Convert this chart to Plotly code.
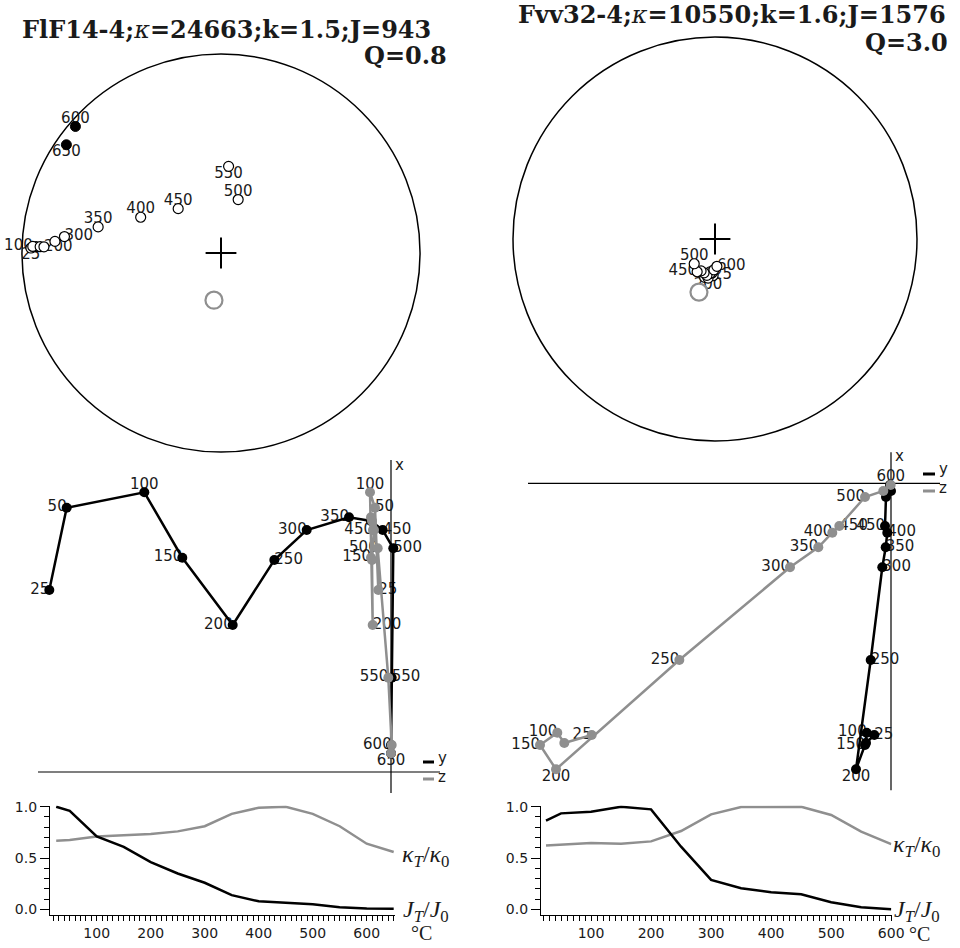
import numpy as np
import plotly.graph_objects as go

W, H = 960, 948

# ---------------- data ----------------
steps_L = [25, 50, 100, 150, 200, 250, 300, 350, 400, 450, 500, 550, 600, 650]
steps_R = [25, 50, 100, 150, 200, 250, 300, 350, 400, 450, 500, 550, 600]

# stereonet directions (declination, inclination, degrees)
dec_L = [271.5, 272, 272, 272, 272, 274, 276, 282, 294, 316, 17.8, 5, 311, 305]
inc_L = [-5, -7.8, -6, -10, -12, -17.5, -22, -37, -53.6, -64.7, -67, -54, 3.5, 5.8]
dec_R = [183, 185, 188.6, 195, 190, 188, 192.5, 197.9, 203.6, 208.6, 220, 182, 176]
inc_R = [-75.2, -76.3, -76.6, -74, -74, -76, -75, -75.7, -76, -75, -77, -77.6, -79]
ref_dir_L = (188.5, 70.5)
ref_dir_R = (196.8, 67.6)

# Zijderveld components (x = north, y = east, z = down), arbitrary units
zx_L = [182, 264.3, 279.7, 214.3, 147, 212, 242, 254.7, 251, 242, 223.7, 94.3, 27, 18.7]
zy_L = [-341.7, -324.3, -246.7, -208.7, -158.3, -116.7, -84.3, -42, -20, -8.3, 2.3, 0.7, 0, 0]
zz_L = [-12.7, -16, -21, -20, -18.3, -19, -17, -20, -19, -18, -13.3, -2.7, 0.7, 0]
zx_R = [-251.7, -259.7, -249.4, -261.7, -286, -176.7, -84, -64, -49.4, -42.7, -13.7, -7.7, -1.7]
zy_R = [-16.7, -25, -24.3, -26, -35, -20.3, -8.7, -5.3, -3.7, -6, -5, 0, -1]
zz_R = [-299.3, -326.7, -333.7, -351, -335, -211.7, -101, -72.7, -58.7, -51.7, -26, -7.7, -0.3]

# normalised demagnetisation / susceptibility curves
J_L = [1.0, 0.96, 0.71, 0.61, 0.46, 0.35, 0.26, 0.14, 0.08, 0.066, 0.05, 0.023, 0.01, 0.007]
K_L = [0.67, 0.675, 0.71, 0.72, 0.735, 0.76, 0.81, 0.93, 0.99, 1.0, 0.93, 0.81, 0.64, 0.56]
J_R = [0.864, 0.935, 0.95, 1.0, 0.974, 0.61, 0.286, 0.205, 0.166, 0.146, 0.068, 0.02, 0.0]
K_R = [0.623, 0.63, 0.646, 0.64, 0.662, 0.763, 0.925, 0.997, 0.997, 1.0, 0.919, 0.757, 0.636]

title_L = "<b>FlF14-4;</b><i>κ</i><b>=24663;k=1.5;J=943</b>"
title_R = "<b>Fvv32-4;</b><i>κ</i><b>=10550;k=1.6;J=1576</b>"
q_L = "<b>Q=0.8</b>"
q_R = "<b>Q=3.0</b>"

# label placement (styling)
st_pos_L = {25: "bottom center", 100: "middle left", 200: "middle right", 300: "middle right",
            350: "top center", 400: "top center", 450: "top center", 500: "top center",
            550: "bottom center", 600: "top center", 650: "bottom center"}
st_pos_R = {500: "top center", 450: "middle left", 600: "middle right", 25: "middle right",
            200: "bottom center"}
zb_pos_L = {25: "middle left", 50: "middle left", 100: "top center", 150: "middle left",
            200: "middle left", 250: "middle right", 300: "middle left", 350: "middle left",
            450: "middle right", 500: "middle right", 550: "middle right"}
zg_pos_L = {25: "middle right", 50: "middle right", 100: "top center", 150: "middle left",
            200: "middle right", 450: "middle left", 500: "middle left", 550: "middle left",
            600: "middle left", 650: "bottom center"}
zb_pos_R = {25: "middle right", 100: "middle left", 150: "middle left", 200: "bottom center",
            250: "middle right", 300: "middle right", 350: "middle right", 400: "middle right",
            450: "middle left"}
zg_pos_R = {25: "middle left", 100: "middle left", 150: "middle left", 200: "bottom center",
            250: "middle left", 300: "middle left", 350: "middle left", 400: "middle left",
            450: "middle right", 500: "middle left", 600: "top center"}

BLACK = "#000000"
GREY = "#8f8f8f"
TXT = "#1a1a1a"
SANS = "DejaVu Sans"
SERIF = "DejaVu Serif"


def proj(dec, inc):
    dec = np.radians(np.asarray(dec, float))
    inc = np.radians(np.asarray(inc, float))
    r = np.sqrt(1 - np.sin(np.abs(inc)))
    return r * np.sin(dec), r * np.cos(dec)


def dom_x(a, b):
    return [a / W, b / W]


def dom_y(top, bottom):
    return [1 - bottom / H, 1 - top / H]


def labels(steps, pos):
    idx = [i for i, s in enumerate(steps) if s in pos]
    return idx, [str(steps[i]) for i in idx], [pos[steps[i]] for i in idx]


fig = go.Figure()


def stereonet(ax, steps, dec, inc, ref, pos):
    xa, ya = ("x", "y") if ax == 1 else (f"x{ax}", f"y{ax}")
    x, y = proj(dec, inc)
    idx, txt, tp = labels(steps, pos)
    fig.add_trace(go.Scatter(x=x[idx], y=y[idx], mode="text", text=txt, textposition=tp,
                             textfont=dict(family=SANS, size=15, color=TXT),
                             xaxis=xa, yaxis=ya, cliponaxis=False, hoverinfo="skip"))
    inc_a = np.asarray(inc)
    up = inc_a < 0
    fig.add_trace(go.Scatter(x=x[up], y=y[up], mode="markers", xaxis=xa, yaxis=ya,
                             marker=dict(symbol="circle", size=10, color="white",
                                         line=dict(color=BLACK, width=1.2)),
                             cliponaxis=False))
    fig.add_trace(go.Scatter(x=x[~up], y=y[~up], mode="markers", xaxis=xa, yaxis=ya,
                             marker=dict(symbol="circle", size=10, color=BLACK,
                                         line=dict(color=BLACK, width=1)),
                             cliponaxis=False))
    rx, ry = proj([ref[0]], [ref[1]])
    fig.add_trace(go.Scatter(x=rx, y=ry, mode="markers", xaxis=xa, yaxis=ya,
                             marker=dict(symbol="circle", size=17, color="white",
                                         line=dict(color=GREY, width=2.2)),
                             cliponaxis=False))
    fig.add_trace(go.Scatter(x=[0], y=[0], mode="markers", xaxis=xa, yaxis=ya,
                             marker=dict(symbol="cross-thin", size=22,
                                         line=dict(color=BLACK, width=2)),
                             cliponaxis=False))
    fig.add_shape(type="circle", xref=xa, yref=ya, x0=-1, y0=-1, x1=1, y1=1,
                  line=dict(color=BLACK, width=1.5), layer="below")


def zijderveld(ax, steps, zx, zy, zz, posb, posg):
    xa, ya = f"x{ax}", f"y{ax}"
    zx, zy, zz = map(np.asarray, (zx, zy, zz))
    for xs, pos in ((zy, posb), (zz, posg)):
        idx, t, p = labels(steps, pos)
        fig.add_trace(go.Scatter(x=xs[idx], y=zx[idx], mode="text", text=t, textposition=p,
                                 textfont=dict(family=SANS, size=15, color=TXT),
                                 xaxis=xa, yaxis=ya, cliponaxis=False, hoverinfo="skip"))
    fig.add_trace(go.Scatter(x=zy, y=zx, mode="lines+markers", xaxis=xa, yaxis=ya,
                             line=dict(color=BLACK, width=2.5),
                             marker=dict(size=10, color=BLACK), cliponaxis=False))
    fig.add_trace(go.Scatter(x=zz, y=zx, mode="lines+markers", xaxis=xa, yaxis=ya,
                             line=dict(color=GREY, width=2.5),
                             marker=dict(size=10, color=GREY), cliponaxis=False))


def demag(ax, steps, J, K):
    xa, ya = f"x{ax}", f"y{ax}"
    fig.add_trace(go.Scatter(x=steps, y=K, mode="lines", xaxis=xa, yaxis=ya,
                             line=dict(color=GREY, width=2.5)))
    fig.add_trace(go.Scatter(x=steps, y=J, mode="lines", xaxis=xa, yaxis=ya,
                             line=dict(color=BLACK, width=2.5)))


stereonet(1, steps_L, dec_L, inc_L, ref_dir_L, st_pos_L)
stereonet(2, steps_R, dec_R, inc_R, ref_dir_R, st_pos_R)
zijderveld(3, steps_L, zx_L, zy_L, zz_L, zb_pos_L, zg_pos_L)
zijderveld(4, steps_R, zx_R, zy_R, zz_R, zb_pos_R, zg_pos_R)
demag(5, steps_L, J_L, K_L)
demag(6, steps_R, J_R, K_R)


def hid(n, dom, rng, other):
    return dict(visible=False, showgrid=False, zeroline=False, domain=dom, range=rng,
                anchor=other, automargin=False)


layout = dict(
    width=W, height=H, margin=dict(l=0, r=0, t=0, b=0, autoexpand=False),
    paper_bgcolor="white", plot_bgcolor="rgba(0,0,0,0)", showlegend=False,
    xaxis=hid(1, dom_x(11, 431), [-1.055, 1.055], "y"),
    yaxis=hid(1, dom_y(43, 463), [-1.055, 1.055], "x"),
    xaxis2=hid(2, dom_x(503, 927), [-1.0495, 1.0495], "y2"),
    yaxis2=hid(2, dom_y(27, 451), [-1.0495, 1.0495], "x2"),
    xaxis3=hid(3, dom_x(0, 480), [-391, 89], "y3"),
    yaxis3=hid(3, dom_y(450, 800), [-28, 322], "x3"),
    xaxis4=hid(4, dom_x(480, 960), [-411, 69], "y4"),
    yaxis4=hid(4, dom_y(445, 800), [-316.7, 38.3], "x4"),
)

tickfont = dict(family=SANS, size=14, color=TXT)


def demag_axes(n, xd, xr, yd, yr):
    xa = dict(domain=xd, range=xr, anchor=f"y{n}", automargin=False,
              showline=True, linecolor=BLACK, linewidth=1.3,
              showgrid=False, zeroline=False, ticks="outside", ticklen=5, tickwidth=1,
              tickcolor=BLACK, tick0=0, dtick=100, tickfont=tickfont,
              minor=dict(dtick=10, tick0=0, ticks="outside", ticklen=5, tickwidth=1,
                         tickcolor=BLACK, showgrid=False))
    ya = dict(domain=yd, range=yr, anchor=f"x{n}", automargin=False,
              showline=True, linecolor=BLACK, linewidth=1.3,
              showgrid=False, zeroline=False, ticks="outside", ticklen=9, tickwidth=1,
              tickcolor=BLACK, tickvals=[0, 0.5, 1.0], ticktext=["0.0", "0.5", "1.0"],
              tickfont=tickfont,
              minor=dict(dtick=0.1, tick0=0, ticks="outside", ticklen=5, tickwidth=1,
                         tickcolor=BLACK, showgrid=False))
    return xa, ya


layout["xaxis5"], layout["yaxis5"] = demag_axes(5, dom_x(50, 395), [13.5, 652.4],
                                                dom_y(805.5, 915), [-0.0535, 1.0117])
layout["xaxis6"], layout["yaxis6"] = demag_axes(6, dom_x(541, 891.5), [16.67, 600.5],
                                                dom_y(805.5, 915), [-0.0556, 1.0117])
fig.update_layout(**layout)

# Zijderveld axes (lines through origin)
for xa, ya, (xl, xh), (yl, yh) in (("x3", "y3", (-353, 49), (-21, 312)),
                                   ("x4", "y4", (-363, 49), (-307, 31))):
    fig.add_shape(type="line", xref=xa, yref=ya, x0=xl, x1=xh, y0=0, y1=0,
                  line=dict(color=BLACK, width=1.2), layer="below")
    fig.add_shape(type="line", xref=xa, yref=ya, x0=0, x1=0, y0=yl, y1=yh,
                  line=dict(color=BLACK, width=1.2), layer="below")


def ann(text, px, py, size=15, family=SANS, xanchor="center", color=TXT):
    fig.add_annotation(text=text, x=px / W, y=1 - py / H, xref="paper", yref="paper",
                       showarrow=False, xanchor=xanchor, yanchor="middle",
                       font=dict(family=family, size=size, color=color))


def dash(x0, x1, py, color):
    fig.add_shape(type="line", xref="paper", yref="paper", x0=x0 / W, x1=x1 / W,
                  y0=1 - py / H, y1=1 - py / H, line=dict(color=color, width=3))


# titles
ann(title_L, 226, 30, size=24, family=SERIF)
ann(q_L, 449, 55, size=24, family=SERIF, xanchor="right")
ann(title_R, 732, 14, size=24, family=SERIF)
ann(q_R, 950, 42, size=24, family=SERIF, xanchor="right")

# Zijderveld axis labels / legend
ann("x", 399, 465)
ann("y", 442, 758)
ann("z", 442, 777)
dash(423, 434, 762, BLACK)
dash(423, 434, 779, GREY)
ann("x", 899, 456)
ann("y", 943, 469)
ann("z", 943, 488)
dash(923, 935, 474, BLACK)
dash(923, 935, 491, GREY)

# curve labels
kap = "<i>κ<sub>T</sub></i>/<i>κ</i><sub>0</sub>"
jj = "<i>J<sub>T</sub></i>/<i>J</i><sub>0</sub>"
ann(kap, 400, 856, size=24, family="Liberation Serif", xanchor="left")
ann(jj, 401, 911, size=24, family="Liberation Serif", xanchor="left")
ann("°C", 409, 933, size=20, family="Liberation Serif", xanchor="left")
ann(kap, 891, 846, size=24, family="Liberation Serif", xanchor="left")
ann(jj, 892, 911, size=24, family="Liberation Serif", xanchor="left")
ann("°C", 907, 934, size=20, family="Liberation Serif", xanchor="left")

fig.write_html("out.html")
